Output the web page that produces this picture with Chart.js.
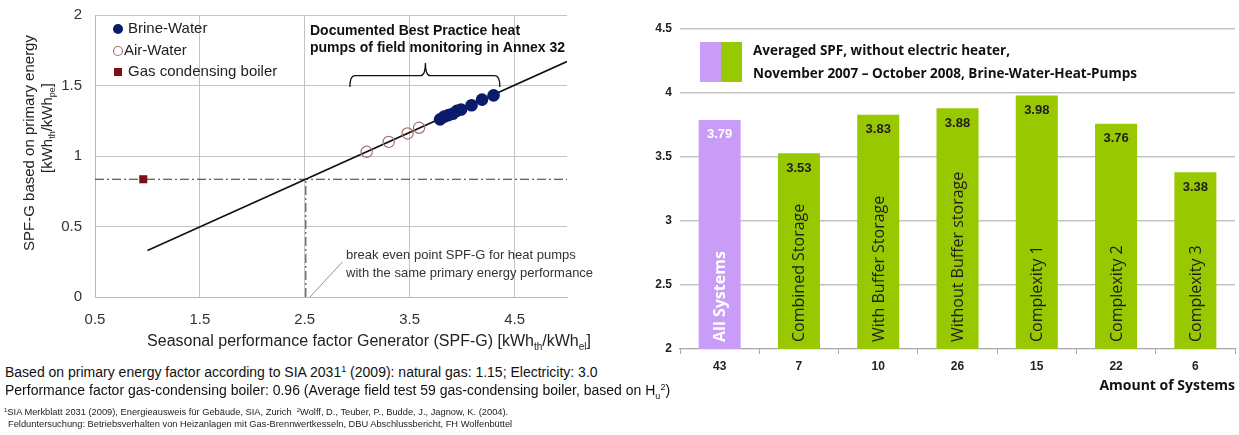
<!DOCTYPE html>
<html>
<head>
<meta charset="utf-8">
<script src="https://cdn.jsdelivr.net/npm/chart.js@4.4.1/dist/chart.umd.min.js"></script>
<style>
body { margin: 0; background: #fff; width: 1239px; height: 435px; overflow: hidden; position: relative; font-family: "Liberation Sans", Arial, sans-serif; }
#spf-primary { position: absolute; left: 0; top: 0; }
#spf-bars { position: absolute; left: 640px; top: 0; }
.note { position: absolute; left: 5px; color: #111; white-space: nowrap; font-size: 14px; line-height: 16px; }
.fn { position: absolute; left: 4px; color: #222; white-space: nowrap; font-size: 9.3px; line-height: 11px; }
.sup { position: relative; top: -5px; font-size: 9px; }
.sub { position: relative; top: 4px; font-size: 9px; }
.fn .sup { top: -3px; font-size: 6px; }
</style>
</head>
<body>
<canvas id="spf-primary" width="620" height="360"></canvas>
<canvas id="spf-bars" width="599" height="400"></canvas>

<div class="note" style="top:364px">Based on primary energy factor according to SIA 2031<span class="sup">1</span> (2009): natural gas: 1.15; Electricity: 3.0</div>
<div class="note" style="top:382px">Performance factor gas-condensing boiler: 0.96 (Average field test 59 gas-condensing boiler, based on H<span class="sub">u</span><span class="sup">2</span>)</div>
<div class="fn" style="top:407px"><span class="sup">1</span>SIA Merkblatt 2031 (2009), Energieausweis für Gebäude, SIA, Zurich &nbsp;<span class="sup">2</span>Wolff, D., Teuber, P., Budde, J., Jagnow, K. (2004).</div>
<div class="fn" style="top:419px;left:8px">Felduntersuchung: Betriebsverhalten von Heizanlagen mit Gas-Brennwertkesseln, DBU Abschlussbericht, FH Wolfenbüttel</div>

<script>
// left chart: SPF-G vs SPF-G based on primary energy
const brine_x = [3.79, 3.83, 3.87, 3.91, 3.95, 3.99, 4.09, 4.19, 4.30];
const brine_y = [1.26, 1.28, 1.29, 1.30, 1.32, 1.33, 1.36, 1.40, 1.43];
const air_x = [3.09, 3.30, 3.48, 3.59];
const air_y = [1.03, 1.10, 1.16, 1.20];
const boiler_x = [0.96];
const boiler_y = [0.835];
const line_x = [1.0, 5.0];
const line_y = [0.33, 1.67];
const break_even_x = 2.51;
const break_even_y = 0.835;
const pointer_x = [2.55, 2.86];
const pointer_y = [0.0, 0.25];
const brace_x = [2.93, 3.65, 4.36];
const brace_y = [1.49, 1.57, 1.66];
const x_ticks = [0.5, 1.5, 2.5, 3.5, 4.5];
const y_ticks = [0, 0.5, 1, 1.5, 2];

// right chart: averaged SPF per group
const categories = ["All Systems", "Combined Storage", "With Buffer Storage", "Without Buffer storage", "Complexity 1", "Complexity 2", "Complexity 3"];
const system_counts = ["43", "7", "10", "26", "15", "22", "6"];
const spf_values = [3.79, 3.53, 3.83, 3.88, 3.98, 3.76, 3.38];
const bar_ticks = [2, 2.5, 3, 3.5, 4, 4.5];

const ARIAL = '"Liberation Sans", Arial, sans-serif';
const FRUTI = '"Open Sans", "Noto Sans", sans-serif';
const NAVY = "#0c1a6c";
const ROSE = "#a8706e";
const BOILER = "#7b0f1c";
const PURPLE = "#c99cf7";
const GREEN = "#98c800";

function pts(xs, ys) {
    return xs.map((x, i) => ({ x: x, y: ys[i] }));
}

// draws text made of [text, kind] parts, kind: "n", "sub", "sup"
function draw_rich(ctx, parts, x, y, size) {
    let total = 0;
    for (const p of parts) {
        ctx.font = (p[1] == "n" ? size : Math.round(size * 0.62)) + "px " + ARIAL;
        total += ctx.measureText(p[0]).width;
    }
    let cx = x - total / 2;
    ctx.textAlign = "left";
    ctx.textBaseline = "middle";
    for (const p of parts) {
        ctx.font = (p[1] == "n" ? size : Math.round(size * 0.62)) + "px " + ARIAL;
        let dy = 0;
        if (p[1] == "sub") dy = size * 0.3;
        if (p[1] == "sup") dy = -size * 0.35;
        ctx.fillText(p[0], cx, y + dy);
        cx += ctx.measureText(p[0]).width;
    }
}

const left_extras = {
    id: "left_extras",
    afterDraw(chart) {
        const ctx = chart.ctx;
        const xs = chart.scales.x, ys = chart.scales.y;
        const area = chart.chartArea;
        ctx.save();
        ctx.fillStyle = "#222";

        // axis titles
        draw_rich(ctx, [["Seasonal performance factor Generator (SPF-G) [kWh", "n"], ["th", "sub"], ["/kWh", "n"], ["el", "sub"], ["]", "n"]],
            369, 342, 16);
        ctx.save();
        ctx.translate(30, 143);
        ctx.rotate(-Math.PI / 2);
        draw_rich(ctx, [["SPF-G based on primary energy", "n"]], 0, 0, 15);
        ctx.restore();
        ctx.save();
        ctx.translate(48, 128);
        ctx.rotate(-Math.PI / 2);
        draw_rich(ctx, [["[kWh", "n"], ["th", "sub"], ["/kWh", "n"], ["pe", "sub"], ["]", "n"]], 0, 0, 15);
        ctx.restore();

        // legend
        const lx = area.left + 23;
        const rows = [area.top + 14, area.top + 36, area.top + 57];
        ctx.fillStyle = NAVY;
        ctx.beginPath(); ctx.arc(lx, rows[0], 5, 0, Math.PI * 2); ctx.fill();
        ctx.strokeStyle = ROSE; ctx.lineWidth = 1.2;
        ctx.beginPath(); ctx.arc(lx, rows[1], 4.5, 0, Math.PI * 2); ctx.stroke();
        ctx.fillStyle = BOILER;
        ctx.fillRect(lx - 4, rows[2] - 4, 8, 8);
        ctx.fillStyle = "#222";
        ctx.font = "15px " + ARIAL;
        ctx.textAlign = "left";
        ctx.textBaseline = "middle";
        ctx.fillText("Brine-Water", lx + 10, rows[0]);
        ctx.fillText("Air-Water", lx + 6, rows[1]);
        ctx.fillText("Gas condensing boiler", lx + 10, rows[2]);

        // best practice note and brace
        ctx.font = "bold 14px " + ARIAL;
        ctx.fillStyle = "#111";
        ctx.fillText("Documented Best Practice heat", 310, 31);
        ctx.fillText("pumps of field monitoring in Annex 32", 310, 48);
        const bl = xs.getPixelForValue(brace_x[0]), bm = xs.getPixelForValue(brace_x[1]), br = xs.getPixelForValue(brace_x[2]);
        const bb = ys.getPixelForValue(brace_y[0]), bh = ys.getPixelForValue(brace_y[1]), bt = ys.getPixelForValue(brace_y[2]);
        ctx.strokeStyle = "#111";
        ctx.lineWidth = 1.3;
        ctx.beginPath();
        ctx.moveTo(bl, bb);
        ctx.quadraticCurveTo(bl, bh, bl + 5, bh);
        ctx.lineTo(bm - 5, bh);
        ctx.quadraticCurveTo(bm, bh, bm, bt);
        ctx.quadraticCurveTo(bm, bh, bm + 5, bh);
        ctx.lineTo(br - 5, bh);
        ctx.quadraticCurveTo(br, bh, br, bb);
        ctx.stroke();

        // break even note
        ctx.font = "13px " + ARIAL;
        ctx.fillStyle = "#333";
        ctx.fillText("break even point SPF-G for heat pumps", 346, 255);
        ctx.fillText("with the same primary energy performance", 346, 273);
        ctx.restore();
    }
};

new Chart(document.getElementById("spf-primary"), {
    type: "scatter",
    data: {
        datasets: [
            {
                label: "Gas condensing boiler",
                data: pts(boiler_x, boiler_y),
                pointStyle: "rect",
                pointRadius: 5.7,
                backgroundColor: BOILER,
                borderColor: BOILER,
                borderWidth: 0
            },
            {
                label: "Brine-Water",
                data: pts(brine_x, brine_y),
                pointRadius: 6.3,
                backgroundColor: NAVY,
                borderColor: NAVY,
                borderWidth: 0
            },
            {
                label: "Air-Water",
                data: pts(air_x, air_y),
                pointRadius: 5.6,
                backgroundColor: "rgba(255,255,255,0)",
                borderColor: ROSE,
                borderWidth: 1.2
            },
            {
                label: "primary energy line",
                data: pts(line_x, line_y),
                showLine: true,
                pointRadius: 0,
                borderColor: "#111",
                borderWidth: 1.6
            },
            {
                label: "boiler level",
                data: pts([0.5, 5.0], [break_even_y, break_even_y]),
                showLine: true,
                pointRadius: 0,
                borderColor: "#333",
                borderWidth: 1,
                borderDash: [9, 3, 2, 3]
            },
            {
                label: "break even",
                data: pts([break_even_x, break_even_x], [0, break_even_y]),
                showLine: true,
                pointRadius: 0,
                borderColor: "#333",
                borderWidth: 1,
                borderDash: [9, 3, 2, 3]
            },
            {
                label: "pointer",
                data: pts(pointer_x, pointer_y),
                showLine: true,
                pointRadius: 0,
                borderColor: "#777",
                borderWidth: 0.8
            }
        ]
    },
    options: {
        responsive: false,
        animation: false,
        layout: { padding: { top: 15, right: 53, left: 0, bottom: 0 } },
        plugins: { legend: { display: false }, tooltip: { enabled: false } },
        scales: {
            x: {
                type: "linear",
                min: 0.5,
                max: 5,
                afterBuildTicks: (s) => { s.ticks = x_ticks.map(v => ({ value: v })); },
                afterFit: (s) => { s.height = 63; s.paddingLeft = 0; s.paddingRight = 0; },
                grid: { color: "#c4c4c4", lineWidth: 1, drawTicks: false },
                border: { color: "#b8b8b8" },
                ticks: { color: "#333", font: { family: ARIAL, size: 15 }, padding: 14, maxRotation: 0, callback: (v) => String(v) }
            },
            y: {
                min: 0,
                max: 2,
                afterBuildTicks: (s) => { s.ticks = y_ticks.map(v => ({ value: v })); },
                afterFit: (s) => { s.width = 95; s.paddingTop = 0; s.paddingBottom = 0; },
                grid: { color: "#c4c4c4", lineWidth: 1, drawTicks: false },
                border: { color: "#b8b8b8" },
                ticks: { color: "#333", font: { family: ARIAL, size: 15 }, padding: 13, callback: (v) => String(v) }
            }
        }
    },
    plugins: [left_extras]
});

const bar_extras = {
    id: "bar_extras",
    afterDatasetsDraw(chart) {
        const ctx = chart.ctx;
        const meta = chart.getDatasetMeta(0);
        const base = chart.scales.y.getPixelForValue(bar_ticks[0]);
        ctx.save();
        meta.data.forEach((bar, i) => {
            const first = i === 0;
            ctx.fillStyle = first ? "#fff" : "#1e1e1e";
            ctx.font = "bold 13px " + ARIAL;
            ctx.textAlign = "center";
            ctx.textBaseline = "middle";
            ctx.fillText(spf_values[i].toFixed(2), bar.x, bar.y + 15);
            ctx.save();
            ctx.translate(bar.x + 1, base - 7);
            ctx.rotate(-Math.PI / 2);
            ctx.textAlign = "left";
            ctx.textBaseline = "middle";
            ctx.font = (first ? "bold " : "") + "16px " + FRUTI;
            ctx.fillText(categories[i], 0, 0);
            ctx.restore();
        });
        ctx.restore();
    },
    afterDraw(chart) {
        const ctx = chart.ctx;
        const area = chart.chartArea;
        const lx = area.left + 20;
        const ty = area.top + 13;
        ctx.save();
        ctx.fillStyle = PURPLE;
        ctx.fillRect(lx, ty, 21, 40);
        ctx.fillStyle = GREEN;
        ctx.fillRect(lx + 21, ty, 21, 40);
        ctx.fillStyle = "#111";
        ctx.font = "bold 13.5px " + FRUTI;
        ctx.textAlign = "left";
        ctx.textBaseline = "middle";
        ctx.fillText("Averaged SPF, without electric heater,", lx + 53, ty + 9);
        ctx.fillText("November 2007 \u2013 October 2008, Brine-Water-Heat-Pumps", lx + 53, ty + 32);
        ctx.restore();
    }
};

new Chart(document.getElementById("spf-bars"), {
    type: "bar",
    data: {
        labels: system_counts,
        datasets: [{
            label: "Averaged SPF",
            data: spf_values,
            backgroundColor: spf_values.map((v, i) => i === 0 ? PURPLE : GREEN),
            borderWidth: 0,
            categoryPercentage: 1,
            barPercentage: 0.53
        }]
    },
    options: {
        responsive: false,
        animation: false,
        layout: { padding: { top: 29, right: 4, left: 0, bottom: 0 } },
        plugins: { legend: { display: false }, tooltip: { enabled: false } },
        scales: {
            x: {
                afterFit: (s) => { s.height = 51; },
                grid: { offset: true, drawOnChartArea: false, drawTicks: true, tickLength: 5, color: "#a8a8a8" },
                border: { color: "#a8a8a8", width: 1.2 },
                ticks: { color: "#222", font: { family: ARIAL, size: 12, weight: "bold" }, padding: 5 },
                title: {
                    display: true,
                    text: "Amount of Systems",
                    align: "end",
                    color: "#111",
                    font: { family: FRUTI, size: 14, weight: "bold" },
                    padding: { top: 4, bottom: 6 }
                }
            },
            y: {
                min: 2,
                max: 4.5,
                afterBuildTicks: (s) => { s.ticks = bar_ticks.map(v => ({ value: v })); },
                afterFit: (s) => { s.width = 40; },
                grid: { color: (c) => c.tick && c.tick.value === 2 ? "rgba(0,0,0,0)" : "#c2c2c2", lineWidth: 1.5, drawTicks: false },
                border: { display: false },
                ticks: { color: "#222", font: { family: ARIAL, size: 12, weight: "bold" }, padding: 8, callback: (v) => String(v) }
            }
        }
    },
    plugins: [bar_extras]
});
</script>
</body>
</html>
